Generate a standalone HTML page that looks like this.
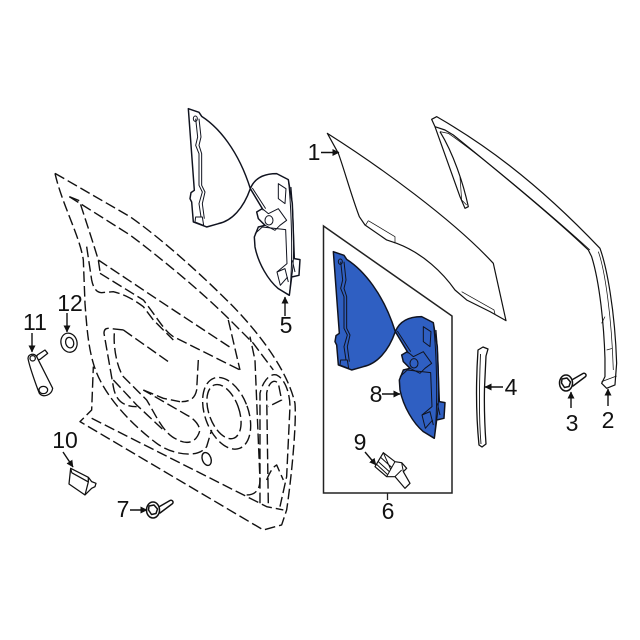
<!DOCTYPE html>
<html><head><meta charset="utf-8"><style>
html,body{margin:0;padding:0;background:#fff}
svg{display:block;filter:blur(.3px)}
text{font-family:"Liberation Sans",sans-serif;font-size:23px;fill:#111;text-anchor:middle}
</style></head><body>
<svg width="640" height="640" viewBox="0 0 640 640" xmlns="http://www.w3.org/2000/svg">
<defs>
<marker id="a" markerWidth="8" markerHeight="8" refX="6.5" refY="3.5" orient="auto" markerUnits="userSpaceOnUse"><path d="M0,0 L7,3.5 L0,7 Z" fill="#111"/></marker>
<g id="reg" transform="translate(320,220) scale(.3333)" stroke="#10131f" stroke-width="4.4" stroke-linejoin="round">
<path d="M40,95 L72,106 L80,118 C130,150 190,220 226,335 C205,395 170,432 130,440 L95,450 L55,435 L50,375 L45,365 L48,347 L58,340 Z"/>
<path d="M226,335 C240,300 270,290 305,290 L340,308 L352,380 L356,490 L358,545 L375,548 L372,595 L350,600 L343,655 L310,635 C280,610 250,560 240,510 L238,480 L250,450 L270,445 L250,425 L245,405 L262,395 Z"/>
<g fill="none" stroke-width="3">
<path d="M226,335 L265,400 M232,333 L272,395"/>
<path d="M340,308 C350,400 355,560 343,655 M348,330 C356,420 360,540 350,600"/>
<path d="M62,125 L68,180 L62,205 L72,230 L72,325 L82,345 L72,380 L78,420"/>
<path d="M72,125 L78,180 L72,205 L80,230 L80,325 L90,345 L82,380 L88,425"/>
<path d="M55,125 a6,8 0 1,0 12,0 a6,8 0 1,0 -12,0"/>
<path d="M62,420 L82,420 L86,445 L60,435 Z"/>
<path d="M310,320 L333,335 L330,380 L310,365 Z"/>
<path d="M262,395 L280,410 L310,395 L335,430 L315,445 L300,460 L270,445"/>
<path d="M270,430 a12,14 0 1,0 24,0 a12,14 0 1,0 -24,0"/>
<path d="M240,470 L262,450 L332,458 L336,560 L306,585 L316,625 L338,600"/>
<path d="M352,550 L360,585 M306,585 L330,575 L340,615"/>
</g>
</g>
<g id="bolt" fill="#fff" stroke="#111" stroke-width="1.5" stroke-linejoin="round">
<path d="M4,-2 L17,-9.5 a2,2 0 0 1 2,3.5 L7,3 Z"/>
<ellipse cx="0" cy="0" rx="6.5" ry="8"/>
<path d="M-4,-4 L1,-5 L4.5,-1 L3,3.5 L-1.5,4.5 L-4.5,0 Z"/>
</g>
</defs>

<!-- door dashed -->
<g transform="translate(30,160) scale(.3333)" fill="none" stroke="#111" stroke-width="4.2" stroke-dasharray="32 12" stroke-linejoin="round">
<path d="M75,40 L300,170 C400,240 520,350 600,430 C670,500 770,620 795,730 C800,790 785,950 770,1050 L755,1095 L700,1110 L150,785 L185,750 L190,620"/>
<path d="M75,40 C95,130 150,230 160,300 L165,430 C170,500 175,560 190,610 C215,700 300,790 380,850 C420,880 500,900 530,860 L545,810"/>
<path d="M118,110 L300,225 C400,300 520,400 600,480 L670,550 L730,630"/>
<path d="M118,110 L148,122 C170,190 190,250 205,300 L210,335 M205,300 L400,430 L605,565 M210,340 L340,420 C380,470 400,510 430,530 L630,630 M595,480 L630,630"/>
<path d="M170,260 L185,360 C190,385 200,398 215,398 L250,395 C290,405 320,425 340,440 L370,480 L430,540"/>
<path d="M280,510 L415,605 M280,510 L235,505 C225,505 222,512 222,520 L250,680 C255,710 270,740 320,740"/>
<path d="M253,520 C250,560 260,620 280,650 L350,720 C380,770 400,820 440,838 C470,855 500,850 510,810 C505,790 490,775 470,765 L340,690"/>
<path d="M505,600 L500,690 C495,715 480,725 455,725 M340,690 L400,715 L450,725"/>
<path d="M250,660 L320,735 L400,810"/>
<ellipse cx="590" cy="760" rx="65" ry="112" transform="rotate(-20 590 760)"/>
<ellipse cx="582" cy="755" rx="45" ry="85" transform="rotate(-20 582 755)"/>
<ellipse cx="530" cy="897" rx="13" ry="20" transform="rotate(-20 530 897)" stroke-dasharray="none"/>
<path d="M185,775 L710,1040 L760,1050"/>
<path d="M650,1005 C675,1005 690,990 690,960 L675,600 L660,530"/>
<path d="M690,1030 L690,700 C700,660 720,640 740,645 C770,660 780,710 780,740 L770,950 L750,1040"/>
<path d="M715,1030 L710,700 C715,670 730,655 745,670 L755,720 L715,740"/>
<path d="M710,960 C720,935 730,920 740,915 L760,960"/>
</g>

<!-- part 5 + 8 -->
<use href="#reg" transform="translate(-145,-143)" fill="#fff"/>
<use href="#reg" fill="#2f5fc2"/>

<!-- box -->
<path d="M323.5,226 L452,316 L452,493 L323.5,493 Z" fill="none" stroke="#222" stroke-width="1.5"/>
<path d="M387.5,493 V500" stroke="#222" stroke-width="1.3"/>

<!-- glass, channel -->
<g transform="translate(320,110) scale(.3333)" fill="none" stroke="#111" stroke-width="3.6" stroke-linejoin="round">
<path d="M22,70 C180,170 400,330 520,460 L558,632 L510,605 L440,570 L405,540 C370,490 310,430 230,400 L200,390 L135,345 L118,320 C95,260 70,170 55,130 Z"/>
<path stroke-width="2.2" d="M145,332 L225,380 L225,400 M137,345 L145,332 M425,545 L522,600 L525,612"/>
<path d="M335,28 L350,20 C480,95 640,205 840,415 C860,470 885,600 890,760 L885,825 L860,835 L845,820 L855,800 L855,745 C852,650 840,520 815,440 L805,420 C700,320 530,180 400,75 L375,60 L345,50 Z"/>
<path d="M345,50 L420,260 L435,295 L445,290 C430,220 400,130 360,65"/>
<path stroke-width="2.2" d="M360,65 L385,70 C500,150 700,320 810,420 M420,200 L425,270 L440,285 M835,425 C855,480 875,620 880,780 M845,640 L855,620 M860,720 L878,715 M845,815 L890,798"/>
</g>
<!-- part 4 -->
<path d="M478,350 L483,347 L488,349 L486,356 L484.5,388 C484,410 485,430 486,444 L482,447 L479,445 C476,415 476,380 478,350 Z" fill="#fff" stroke="#111" stroke-width="1.3" stroke-linejoin="round"/>
<path d="M480.5,354 C479,390 479,420 481,444" fill="none" stroke="#111" stroke-width=".9"/>

<use href="#bolt" transform="translate(566,383)"/>
<use href="#bolt" transform="translate(153,510)"/>

<!-- motor 9 -->
<g transform="translate(360,440) scale(.3333)" fill="#fff" stroke="#111" stroke-width="3.6" stroke-linejoin="round">
<path d="M45,80 L70,38 L105,65 L125,68 L140,85 L130,95 L150,130 L135,145 L105,110 L80,110 Z"/>
<path fill="none" stroke-width="3" d="M55,65 L88,95 M62,52 L95,82 M50,73 L82,103 M70,38 L92,88 L80,110 M105,65 L92,88 M105,110 L125,90 M125,68 L130,95"/>
</g>

<!-- parts 10,11,12 -->
<g transform="translate(20,290) scale(.3333)" fill="#fff" stroke="#111" stroke-width="3.8" stroke-linejoin="round">
<path d="M152,535 L205,562 L215,575 L228,580 L225,590 L215,595 L195,615 L147,582 Z"/>
<path fill="none" d="M155,548 L205,576 L195,615 M155,548 L152,535 M205,576 L205,562"/>
<path d="M52,195 L75,180 L83,190 L60,208 L45,212 Z"/>
<path d="M24,205 C25,192 42,188 50,200 L98,295 C95,315 70,325 58,310 C52,295 28,230 24,205 Z"/>
<path fill="none" d="M30,205 a8,8 0 1,0 16,0 a8,8 0 1,0 -16,0"/>
<ellipse cx="70" cy="300" rx="13" ry="11"/>
<ellipse cx="147" cy="158" rx="24" ry="29" transform="rotate(-15 147 158)"/>
<ellipse cx="149" cy="158" rx="12" ry="16" transform="rotate(-15 149 158)"/>
</g>

<!-- arrows -->
<g stroke="#111" stroke-width="1.4" fill="none">
<path d="M321,152.5 H339" marker-end="url(#a)"/>
<path d="M285,316 V297" marker-end="url(#a)"/>
<path d="M608,406 V389" marker-end="url(#a)"/>
<path d="M571,408 V392" marker-end="url(#a)"/>
<path d="M503,387 H485" marker-end="url(#a)"/>
<path d="M130,510 H147" marker-end="url(#a)"/>
<path d="M382,394 H400" marker-end="url(#a)"/>
<path d="M365,452 L376,465" marker-end="url(#a)"/>
<path d="M63,452 L73,467" marker-end="url(#a)"/>
<path d="M32,333 V352" marker-end="url(#a)"/>
<path d="M67,313 V332" marker-end="url(#a)"/>
</g>

<!-- labels -->
<text x="314" y="160">1</text>
<text x="286" y="333">5</text>
<text x="608" y="428">2</text>
<text x="572" y="431">3</text>
<text x="511" y="395">4</text>
<text x="388" y="519">6</text>
<text x="123" y="517">7</text>
<text x="376" y="402">8</text>
<text x="360" y="450">9</text>
<text x="65" y="448">10</text>
<text x="35" y="330">11</text>
<text x="70" y="311">12</text>
</svg>
</body></html>
